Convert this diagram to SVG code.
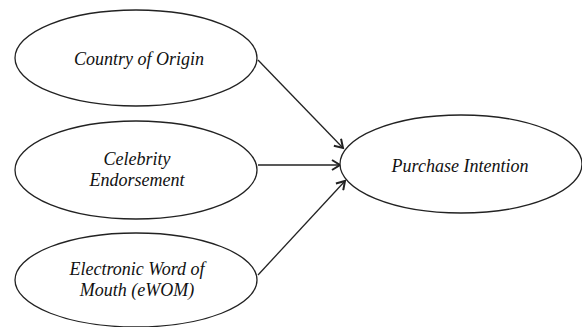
<svg xmlns="http://www.w3.org/2000/svg" width="582" height="327" viewBox="0 0 582 327">
<style>
.n{fill:#fff;stroke:#222;stroke-width:1.3}
.t{font-family:'Liberation Serif','Times New Roman',serif;font-style:italic;font-size:18px;fill:#111;text-anchor:middle}
.c{stroke:#222;stroke-width:1.3;fill:none;marker-end:url(#a)}
</style>
<defs>
<marker id="a" markerWidth="12" markerHeight="12" refX="10" refY="6" orient="auto" markerUnits="userSpaceOnUse">
<path d="M2,1 L10,6 L2,11" fill="none" stroke="#222" stroke-width="2"/>
</marker>
</defs>
<rect width="582" height="327" fill="#fff"/>
<g id="connectors">
<line class="c" x1="258" y1="60" x2="343" y2="148"/>
<line class="c" x1="258" y1="165" x2="340" y2="165"/>
<line class="c" x1="258" y1="275" x2="345" y2="181"/>
</g>
<g id="coo">
<ellipse class="n" cx="136" cy="58" rx="121" ry="48"/>
<text class="t" x="139" y="65">Country of Origin</text>
</g>
<g id="ce">
<ellipse class="n" cx="136" cy="170" rx="121" ry="49"/>
<text class="t" x="137" y="165">Celebrity</text>
<text class="t" x="137" y="186">Endorsement</text>
</g>
<g id="ewom">
<ellipse class="n" cx="136" cy="280" rx="121" ry="47"/>
<text class="t" x="137" y="275">Electronic Word of</text>
<text class="t" x="137" y="296">Mouth (eWOM)</text>
</g>
<g id="pi">
<ellipse class="n" cx="461" cy="164" rx="121" ry="49"/>
<text class="t" x="460" y="172">Purchase Intention</text>
</g>
</svg>
